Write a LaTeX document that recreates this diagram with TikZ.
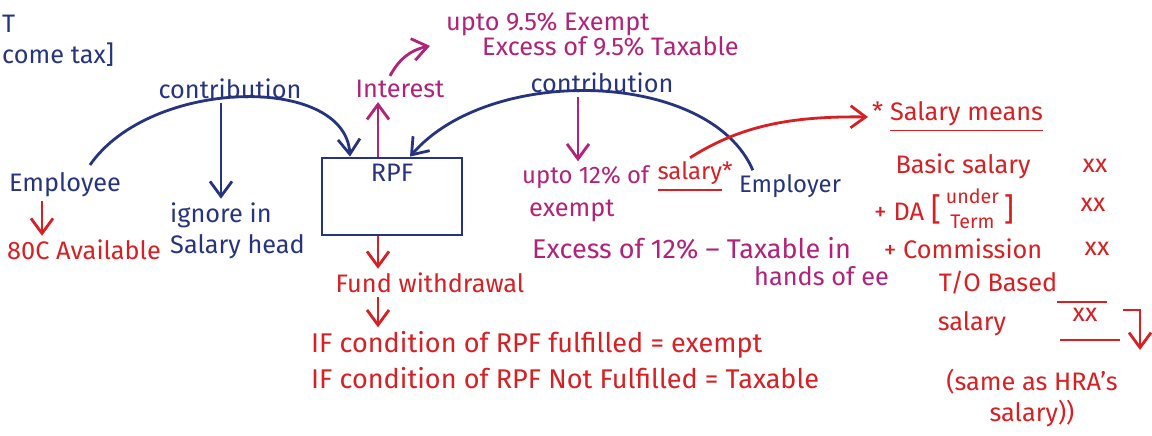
\documentclass[tikz,border=0pt]{standalone}
\usepackage{fontspec}
\setmainfont{Fira Sans}
\usepackage{xcolor}
\usetikzlibrary{positioning,arrows.meta,calc}
\definecolor{penblue}{RGB}{38,52,128}
\definecolor{penred}{RGB}{214,32,36}
\definecolor{penpink}{RGB}{178,34,120}

\begin{document}
\begin{tikzpicture}[
    txt/.style={font=\fontsize{7.2}{8.8}\selectfont, inner sep=1pt},
    bl/.style={txt, text=penblue},
    rd/.style={txt, text=penred},
    pk/.style={txt, text=penpink},
    big/.style={font=\fontsize{7.7}{9.5}\selectfont},
    small/.style={font=\fontsize{6.8}{8.4}\selectfont},
    ln/.style={thick, -{Straight Barb[length=1.5mm,width=2.2mm]}},
    fundbox/.style={draw=penblue, thick, minimum width=1.4cm, minimum height=0.77cm}
  ]
    \useasboundingbox (0,0) rectangle (11.52,4.36);

    % Kop
    \node[bl, anchor=west] (kopT) at (-0.02,4.12) {T};
    \node[bl, anchor=west] (kopTax) at (-0.02,3.81) {come tax]};

    % Fonds
    \node[fundbox] (rpf) at (3.92,2.395) {};
    \node[bl, below=1pt of rpf.north] (rpfTxt) {RPF};

    % Werknemer
    \node[bl] (employee) at (0.65,2.51) {Employee};
    \node[rd] (avail) at (0.84,1.86) {80C Available};
    \draw[ln, penred] ([xshift=-2.3mm]employee.south) -- ([xshift=-2.3mm]employee.south |- avail.north);
    \node[bl] (contrL) at (2.3,3.47) {contribution};
    \draw[ln, penblue] (0.9,2.71) .. controls (1.5,3.58) and (3.45,3.62) .. ($(rpf.north)+(-0.42,0)$);
    \node[bl, align=left, anchor=west] (ignore) at (1.66,2.05) {ignore in\\Salary head};
    \draw[ln, penblue] ([xshift=-0.9mm]contrL.south) -- ([xshift=-0.9mm]contrL.south |- ignore.north);

    % Rente
    \node[pk] (interest) at (4.0,3.47) {Interest};
    \draw[ln, penpink] ([xshift=-1.4mm]rpf.north) -- ([xshift=-1.4mm]rpf.north |- interest.south);
    \node[pk, anchor=west] (rate1) at (4.42,4.12) {upto 9.5\% Exempt};
    \node[pk, anchor=west] (rate2) at (4.78,3.9) {Excess of 9.5\% Taxable};
    \draw[ln, penpink] ([xshift=-1mm]interest.north) to[bend left=25] ([xshift=-1.2mm,yshift=-0.6mm]rate1.south west);

    % Werkgever
    \node[pk, small, anchor=west] (upto12) at (5.18,2.59) {upto 12\% of};
    \node[rd, small, right=0pt of upto12] (salw) {\underline{salary}*};
    \node[bl, small] (employer) at (7.9,2.5) {Employer};
    \node[bl] (contrR) at (6.02,3.53) {contribution};
    \draw[ln, penblue] ($(employer.north west)+(0.18,0)$) .. controls (7.1,3.66) and (4.9,3.72) .. ($(rpf.north)+(0.18,0)$);
    \draw[ln, penpink] ([xshift=-2.4mm]contrR.south) -- ([xshift=-2.4mm]contrR.south |- upto12.north);
    \node[pk, anchor=west] (exempt) at (5.25,2.25) {exempt};
    \node[pk, big, anchor=west] (excess12) at (5.28,1.88) {Excess of 12\% -- Taxable in};
    \node[pk, anchor=west] (hands) at (7.5,1.6) {hands of ee};

    % Opname
    \node[rd] (fund) at (4.3,1.53) {Fund withdrawal};
    \draw[ln, penred] ([xshift=-1.4mm]rpf.south) -- ([xshift=-1.4mm]rpf.south |- fund.north);
    \node[rd, big, anchor=west] (cond1) at (3.07,0.91) {IF condition of RPF fulfilled = exempt};
    \node[rd, big, anchor=west] (cond2) at (3.07,0.58) {IF condition of RPF Not Fulfilled = Taxable};
    \draw[ln, penred] ([xshift=-1.4mm]rpf.south |- fund.south) -- ([xshift=-1.4mm]rpf.south |- cond1.north);

    % Salaris
    \node[rd, anchor=west] (salMeans) at (8.68,3.19) {* \underline{Salary means}};
    \draw[ln, penred] ($(salw.north)+(-0.05,0)$) .. controls (7.4,3.1) and (7.9,3.2) .. (salMeans.west);
    \node[rd] (basic) at (9.63,2.7) {Basic salary};
    \node[rd] (xx1) at (10.95,2.7) {xx};
    \node[rd, anchor=west] (da) at (8.7,2.27) {+ DA {\fontsize{9}{9}\selectfont[}};
    \node[rd, right=0pt of da, inner sep=0pt, font=\fontsize{5.6}{7}\selectfont, align=center] (daTerm) {under\\Term};
    \node[rd, right=0pt of daTerm] (daEnd) {\fontsize{9}{9}\selectfont]};
    \node[rd] (xx2) at (10.93,2.31) {xx};
    \node[rd] (comm) at (9.63,1.87) {+ Commission};
    \node[rd] (xx3) at (10.97,1.87) {xx};
    \node[rd] (tob) at (9.98,1.53) {T/O Based};
    \node[rd] (sal) at (9.72,1.12) {salary};
    \node[rd] (xx4) at (10.85,1.21) {xx};
    \draw[penred, thick] (10.57,1.34) -- (11.07,1.34);
    \draw[penred, thick] (10.6,0.96) -- (11.2,0.96);
    \draw[ln, penred] (11.23,1.26) -- (11.4,1.26) -- (11.4,0.86);
    \node[rd, align=center] (same) at (10.32,0.38) {(same as HRA's\\salary))};
\end{tikzpicture}
\end{document}
